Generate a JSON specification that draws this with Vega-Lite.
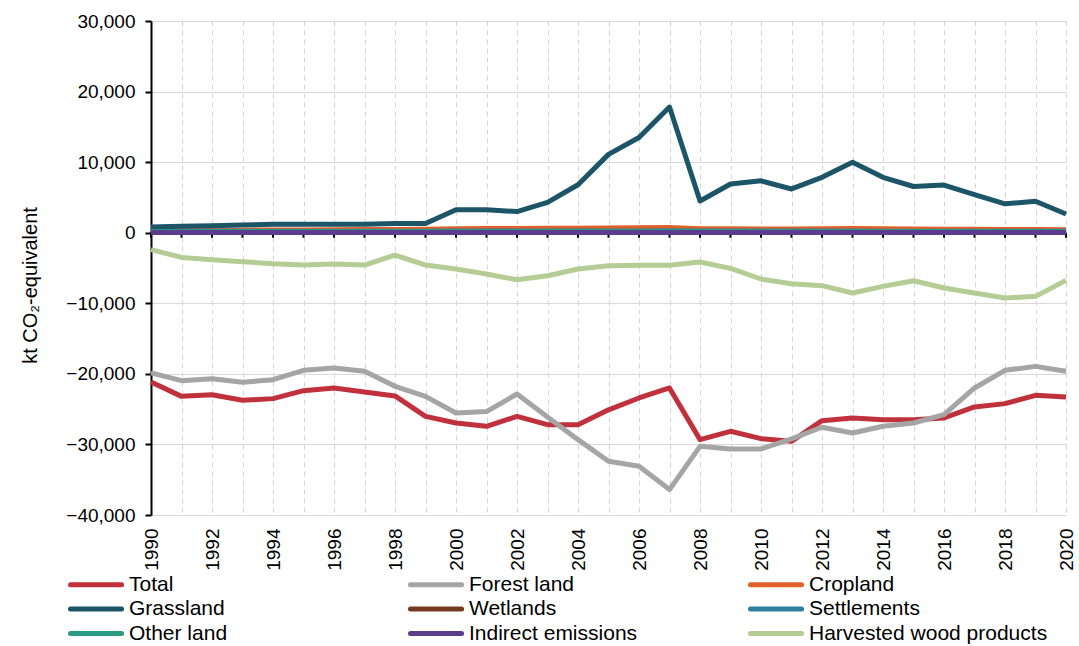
{
"$schema": "https://vega.github.io/schema/vega-lite/v6.json",
"width": 915, "height": 494,
"autosize": {"type": "none"},
"padding": {"left": 151, "top": 21, "right": 13, "bottom": 131},
"background": "white",
"config": {"view": {"stroke": null}, "font": "Liberation Sans"},
"data": {"values": [
{"year":1990,"series":"Total","value":-21150},{"year":1991,"series":"Total","value":-23190},{"year":1992,"series":"Total","value":-22950},{"year":1993,"series":"Total","value":-23750},{"year":1994,"series":"Total","value":-23510},{"year":1995,"series":"Total","value":-22380},{"year":1996,"series":"Total","value":-22000},{"year":1997,"series":"Total","value":-22570},{"year":1998,"series":"Total","value":-23130},{"year":1999,"series":"Total","value":-26020},{"year":2000,"series":"Total","value":-26960},{"year":2001,"series":"Total","value":-27430},{"year":2002,"series":"Total","value":-26020},{"year":2003,"series":"Total","value":-27200},{"year":2004,"series":"Total","value":-27200},{"year":2005,"series":"Total","value":-25100},{"year":2006,"series":"Total","value":-23420},{"year":2007,"series":"Total","value":-22000},{"year":2008,"series":"Total","value":-29320},{"year":2009,"series":"Total","value":-28140},{"year":2010,"series":"Total","value":-29180},{"year":2011,"series":"Total","value":-29560},{"year":2012,"series":"Total","value":-26630},{"year":2013,"series":"Total","value":-26250},{"year":2014,"series":"Total","value":-26490},{"year":2015,"series":"Total","value":-26490},{"year":2016,"series":"Total","value":-26250},{"year":2017,"series":"Total","value":-24690},{"year":2018,"series":"Total","value":-24220},{"year":2019,"series":"Total","value":-23040},{"year":2020,"series":"Total","value":-23270},
{"year":1990,"series":"Forest land","value":-19870},{"year":1991,"series":"Forest land","value":-20960},{"year":1992,"series":"Forest land","value":-20680},{"year":1993,"series":"Forest land","value":-21200},{"year":1994,"series":"Forest land","value":-20820},{"year":1995,"series":"Forest land","value":-19500},{"year":1996,"series":"Forest land","value":-19170},{"year":1997,"series":"Forest land","value":-19640},{"year":1998,"series":"Forest land","value":-21770},{"year":1999,"series":"Forest land","value":-23190},{"year":2000,"series":"Forest land","value":-25540},{"year":2001,"series":"Forest land","value":-25350},{"year":2002,"series":"Forest land","value":-22850},{"year":2003,"series":"Forest land","value":-26100},{"year":2004,"series":"Forest land","value":-29320},{"year":2005,"series":"Forest land","value":-32390},{"year":2006,"series":"Forest land","value":-33100},{"year":2007,"series":"Forest land","value":-36400},{"year":2008,"series":"Forest land","value":-30270},{"year":2009,"series":"Forest land","value":-30640},{"year":2010,"series":"Forest land","value":-30640},{"year":2011,"series":"Forest land","value":-29220},{"year":2012,"series":"Forest land","value":-27570},{"year":2013,"series":"Forest land","value":-28380},{"year":2014,"series":"Forest land","value":-27430},{"year":2015,"series":"Forest land","value":-26960},{"year":2016,"series":"Forest land","value":-25780},{"year":2017,"series":"Forest land","value":-22000},{"year":2018,"series":"Forest land","value":-19500},{"year":2019,"series":"Forest land","value":-18940},{"year":2020,"series":"Forest land","value":-19640},
{"year":1990,"series":"Cropland","value":300},{"year":1991,"series":"Cropland","value":320},{"year":1992,"series":"Cropland","value":340},{"year":1993,"series":"Cropland","value":360},{"year":1994,"series":"Cropland","value":380},{"year":1995,"series":"Cropland","value":400},{"year":1996,"series":"Cropland","value":420},{"year":1997,"series":"Cropland","value":440},{"year":1998,"series":"Cropland","value":460},{"year":1999,"series":"Cropland","value":480},{"year":2000,"series":"Cropland","value":550},{"year":2001,"series":"Cropland","value":580},{"year":2002,"series":"Cropland","value":600},{"year":2003,"series":"Cropland","value":620},{"year":2004,"series":"Cropland","value":650},{"year":2005,"series":"Cropland","value":680},{"year":2006,"series":"Cropland","value":720},{"year":2007,"series":"Cropland","value":750},{"year":2008,"series":"Cropland","value":550},{"year":2009,"series":"Cropland","value":550},{"year":2010,"series":"Cropland","value":540},{"year":2011,"series":"Cropland","value":540},{"year":2012,"series":"Cropland","value":560},{"year":2013,"series":"Cropland","value":600},{"year":2014,"series":"Cropland","value":560},{"year":2015,"series":"Cropland","value":520},{"year":2016,"series":"Cropland","value":500},{"year":2017,"series":"Cropland","value":480},{"year":2018,"series":"Cropland","value":450},{"year":2019,"series":"Cropland","value":440},{"year":2020,"series":"Cropland","value":430},
{"year":1990,"series":"Grassland","value":800},{"year":1991,"series":"Grassland","value":900},{"year":1992,"series":"Grassland","value":1000},{"year":1993,"series":"Grassland","value":1100},{"year":1994,"series":"Grassland","value":1200},{"year":1995,"series":"Grassland","value":1200},{"year":1996,"series":"Grassland","value":1200},{"year":1997,"series":"Grassland","value":1200},{"year":1998,"series":"Grassland","value":1300},{"year":1999,"series":"Grassland","value":1300},{"year":2000,"series":"Grassland","value":3250},{"year":2001,"series":"Grassland","value":3250},{"year":2002,"series":"Grassland","value":3000},{"year":2003,"series":"Grassland","value":4300},{"year":2004,"series":"Grassland","value":6800},{"year":2005,"series":"Grassland","value":11100},{"year":2006,"series":"Grassland","value":13500},{"year":2007,"series":"Grassland","value":17800},{"year":2008,"series":"Grassland","value":4500},{"year":2009,"series":"Grassland","value":6900},{"year":2010,"series":"Grassland","value":7350},{"year":2011,"series":"Grassland","value":6200},{"year":2012,"series":"Grassland","value":7850},{"year":2013,"series":"Grassland","value":10000},{"year":2014,"series":"Grassland","value":7850},{"year":2015,"series":"Grassland","value":6550},{"year":2016,"series":"Grassland","value":6750},{"year":2017,"series":"Grassland","value":5400},{"year":2018,"series":"Grassland","value":4100},{"year":2019,"series":"Grassland","value":4450},{"year":2020,"series":"Grassland","value":2650},
{"year":1990,"series":"Wetlands","value":80},{"year":1991,"series":"Wetlands","value":80},{"year":1992,"series":"Wetlands","value":85},{"year":1993,"series":"Wetlands","value":85},{"year":1994,"series":"Wetlands","value":90},{"year":1995,"series":"Wetlands","value":90},{"year":1996,"series":"Wetlands","value":90},{"year":1997,"series":"Wetlands","value":95},{"year":1998,"series":"Wetlands","value":95},{"year":1999,"series":"Wetlands","value":100},{"year":2000,"series":"Wetlands","value":100},{"year":2001,"series":"Wetlands","value":100},{"year":2002,"series":"Wetlands","value":105},{"year":2003,"series":"Wetlands","value":105},{"year":2004,"series":"Wetlands","value":110},{"year":2005,"series":"Wetlands","value":110},{"year":2006,"series":"Wetlands","value":110},{"year":2007,"series":"Wetlands","value":115},{"year":2008,"series":"Wetlands","value":110},{"year":2009,"series":"Wetlands","value":110},{"year":2010,"series":"Wetlands","value":105},{"year":2011,"series":"Wetlands","value":105},{"year":2012,"series":"Wetlands","value":100},{"year":2013,"series":"Wetlands","value":100},{"year":2014,"series":"Wetlands","value":100},{"year":2015,"series":"Wetlands","value":95},{"year":2016,"series":"Wetlands","value":95},{"year":2017,"series":"Wetlands","value":90},{"year":2018,"series":"Wetlands","value":90},{"year":2019,"series":"Wetlands","value":90},{"year":2020,"series":"Wetlands","value":85},
{"year":1990,"series":"Settlements","value":180},{"year":1991,"series":"Settlements","value":185},{"year":1992,"series":"Settlements","value":190},{"year":1993,"series":"Settlements","value":195},{"year":1994,"series":"Settlements","value":200},{"year":1995,"series":"Settlements","value":205},{"year":1996,"series":"Settlements","value":210},{"year":1997,"series":"Settlements","value":215},{"year":1998,"series":"Settlements","value":220},{"year":1999,"series":"Settlements","value":225},{"year":2000,"series":"Settlements","value":230},{"year":2001,"series":"Settlements","value":235},{"year":2002,"series":"Settlements","value":240},{"year":2003,"series":"Settlements","value":245},{"year":2004,"series":"Settlements","value":250},{"year":2005,"series":"Settlements","value":255},{"year":2006,"series":"Settlements","value":260},{"year":2007,"series":"Settlements","value":265},{"year":2008,"series":"Settlements","value":250},{"year":2009,"series":"Settlements","value":245},{"year":2010,"series":"Settlements","value":240},{"year":2011,"series":"Settlements","value":235},{"year":2012,"series":"Settlements","value":230},{"year":2013,"series":"Settlements","value":230},{"year":2014,"series":"Settlements","value":225},{"year":2015,"series":"Settlements","value":220},{"year":2016,"series":"Settlements","value":215},{"year":2017,"series":"Settlements","value":210},{"year":2018,"series":"Settlements","value":205},{"year":2019,"series":"Settlements","value":200},{"year":2020,"series":"Settlements","value":200},
{"year":1990,"series":"Other land","value":150},{"year":1991,"series":"Other land","value":150},{"year":1992,"series":"Other land","value":150},{"year":1993,"series":"Other land","value":155},{"year":1994,"series":"Other land","value":155},{"year":1995,"series":"Other land","value":155},{"year":1996,"series":"Other land","value":160},{"year":1997,"series":"Other land","value":160},{"year":1998,"series":"Other land","value":160},{"year":1999,"series":"Other land","value":165},{"year":2000,"series":"Other land","value":165},{"year":2001,"series":"Other land","value":165},{"year":2002,"series":"Other land","value":170},{"year":2003,"series":"Other land","value":170},{"year":2004,"series":"Other land","value":170},{"year":2005,"series":"Other land","value":175},{"year":2006,"series":"Other land","value":175},{"year":2007,"series":"Other land","value":175},{"year":2008,"series":"Other land","value":170},{"year":2009,"series":"Other land","value":170},{"year":2010,"series":"Other land","value":165},{"year":2011,"series":"Other land","value":165},{"year":2012,"series":"Other land","value":160},{"year":2013,"series":"Other land","value":160},{"year":2014,"series":"Other land","value":160},{"year":2015,"series":"Other land","value":155},{"year":2016,"series":"Other land","value":155},{"year":2017,"series":"Other land","value":150},{"year":2018,"series":"Other land","value":150},{"year":2019,"series":"Other land","value":150},{"year":2020,"series":"Other land","value":150},
{"year":1990,"series":"Indirect emissions","value":30},{"year":1991,"series":"Indirect emissions","value":30},{"year":1992,"series":"Indirect emissions","value":30},{"year":1993,"series":"Indirect emissions","value":30},{"year":1994,"series":"Indirect emissions","value":30},{"year":1995,"series":"Indirect emissions","value":30},{"year":1996,"series":"Indirect emissions","value":30},{"year":1997,"series":"Indirect emissions","value":30},{"year":1998,"series":"Indirect emissions","value":30},{"year":1999,"series":"Indirect emissions","value":30},{"year":2000,"series":"Indirect emissions","value":30},{"year":2001,"series":"Indirect emissions","value":30},{"year":2002,"series":"Indirect emissions","value":30},{"year":2003,"series":"Indirect emissions","value":30},{"year":2004,"series":"Indirect emissions","value":30},{"year":2005,"series":"Indirect emissions","value":30},{"year":2006,"series":"Indirect emissions","value":30},{"year":2007,"series":"Indirect emissions","value":30},{"year":2008,"series":"Indirect emissions","value":30},{"year":2009,"series":"Indirect emissions","value":30},{"year":2010,"series":"Indirect emissions","value":30},{"year":2011,"series":"Indirect emissions","value":30},{"year":2012,"series":"Indirect emissions","value":30},{"year":2013,"series":"Indirect emissions","value":30},{"year":2014,"series":"Indirect emissions","value":30},{"year":2015,"series":"Indirect emissions","value":30},{"year":2016,"series":"Indirect emissions","value":30},{"year":2017,"series":"Indirect emissions","value":30},{"year":2018,"series":"Indirect emissions","value":30},{"year":2019,"series":"Indirect emissions","value":30},{"year":2020,"series":"Indirect emissions","value":30},
{"year":1990,"series":"Harvested wood products","value":-2400},{"year":1991,"series":"Harvested wood products","value":-3500},{"year":1992,"series":"Harvested wood products","value":-3820},{"year":1993,"series":"Harvested wood products","value":-4100},{"year":1994,"series":"Harvested wood products","value":-4400},{"year":1995,"series":"Harvested wood products","value":-4580},{"year":1996,"series":"Harvested wood products","value":-4440},{"year":1997,"series":"Harvested wood products","value":-4580},{"year":1998,"series":"Harvested wood products","value":-3160},{"year":1999,"series":"Harvested wood products","value":-4580},{"year":2000,"series":"Harvested wood products","value":-5150},{"year":2001,"series":"Harvested wood products","value":-5860},{"year":2002,"series":"Harvested wood products","value":-6660},{"year":2003,"series":"Harvested wood products","value":-6090},{"year":2004,"series":"Harvested wood products","value":-5150},{"year":2005,"series":"Harvested wood products","value":-4670},{"year":2006,"series":"Harvested wood products","value":-4620},{"year":2007,"series":"Harvested wood products","value":-4620},{"year":2008,"series":"Harvested wood products","value":-4160},{"year":2009,"series":"Harvested wood products","value":-5050},{"year":2010,"series":"Harvested wood products","value":-6560},{"year":2011,"series":"Harvested wood products","value":-7220},{"year":2012,"series":"Harvested wood products","value":-7500},{"year":2013,"series":"Harvested wood products","value":-8550},{"year":2014,"series":"Harvested wood products","value":-7600},{"year":2015,"series":"Harvested wood products","value":-6800},{"year":2016,"series":"Harvested wood products","value":-7840},{"year":2017,"series":"Harvested wood products","value":-8550},{"year":2018,"series":"Harvested wood products","value":-9250},{"year":2019,"series":"Harvested wood products","value":-9020},{"year":2020,"series":"Harvested wood products","value":-6750}
]},
"layer": [
{
"transform": [{"filter": "datum.series === 'Total'"}],
"mark": {"type": "rule", "color": "black", "strokeWidth": 2, "y2Offset": 5},
"encoding": {
"x": {"field": "year", "type": "quantitative",
"scale": {"domain": [1990, 2020], "nice": false, "zero": false},
"axis": {"title": null, "values": [1990,1991,1992,1993,1994,1995,1996,1997,1998,1999,2000,2001,2002,2003,2004,2005,2006,2007,2008,2009,2010,2011,2012,2013,2014,2015,2016,2017,2018,2019,2020],
"format": "d", "labelExpr": "datum.value % 2 === 0 ? datum.label : ''",
"grid": true, "gridDash": [5, 4], "gridColor": "#d4d4d4", "gridWidth": 1,
"ticks": false, "domain": false, "labelAngle": -90, "labelFontSize": 19, "labelColor": "#000", "labelPadding": 13, "labelFont": "Liberation Sans"}},
"y": {"datum": 0, "type": "quantitative",
"scale": {"domain": [-40000, 30000], "nice": false},
"axis": {"title": "kt CO₂-equivalent", "values": [-40000,-30000,-20000,-10000,0,10000,20000,30000], "format": ",.0f",
"grid": true, "gridColor": "#d9d9d9", "gridWidth": 1,
"domainColor": "#000", "domainWidth": 2, "tickColor": "#000", "tickWidth": 2, "tickSize": 6,
"labelFontSize": 19, "labelColor": "#000", "labelPadding": 10, "labelFont": "Liberation Sans",
"titleFontSize": 20, "titleFontWeight": "normal", "titleColor": "#000", "titleFont": "Liberation Sans",
"titleX": -121, "titleY": 264, "titleAngle": -90, "titleAlign": "center", "titleBaseline": "middle"}},
"y2": {"datum": 0}
}
},
{
"mark": {"type": "line", "strokeWidth": 5, "strokeJoin": "round"},
"encoding": {
"x": {"field": "year", "type": "quantitative",
"scale": {"domain": [1990, 2020], "nice": false, "zero": false},
"axis": {"title": null, "values": [1990,1991,1992,1993,1994,1995,1996,1997,1998,1999,2000,2001,2002,2003,2004,2005,2006,2007,2008,2009,2010,2011,2012,2013,2014,2015,2016,2017,2018,2019,2020],
"format": "d", "labelExpr": "datum.value % 2 === 0 ? datum.label : ''",
"grid": true, "gridDash": [5, 4], "gridColor": "#d4d4d4", "gridWidth": 1,
"ticks": false, "domain": false, "labelAngle": -90, "labelFontSize": 19, "labelColor": "#000", "labelPadding": 13, "labelFont": "Liberation Sans"}},
"y": {"field": "value", "type": "quantitative",
"scale": {"domain": [-40000, 30000], "nice": false},
"axis": {"title": "kt CO₂-equivalent", "values": [-40000,-30000,-20000,-10000,0,10000,20000,30000], "format": ",.0f",
"grid": true, "gridColor": "#d9d9d9", "gridWidth": 1,
"domainColor": "#000", "domainWidth": 2, "tickColor": "#000", "tickWidth": 2, "tickSize": 6,
"labelFontSize": 19, "labelColor": "#000", "labelPadding": 10, "labelFont": "Liberation Sans",
"titleFontSize": 20, "titleFontWeight": "normal", "titleColor": "#000", "titleFont": "Liberation Sans",
"titleX": -121, "titleY": 264, "titleAngle": -90, "titleAlign": "center", "titleBaseline": "middle"}},
"color": {"field": "series", "type": "nominal",
"scale": {"domain": ["Total","Forest land","Cropland","Grassland","Wetlands","Settlements","Other land","Indirect emissions","Harvested wood products"],
"range": ["#c1313c","#a5a5a5","#e0602a","#1c5468","#763a22","#2f7f9f","#2a9a83","#5c3c8c","#b5cd94"]},
"legend": {"title": null, "orient": "none", "legendX": -91, "legendY": 553, "columns": 3, "direction": "horizontal",
"symbolType": "M0,0H8", "symbolSize": 163, "symbolStrokeWidth": 5,
"labelFontSize": 21, "labelFont": "Liberation Sans", "labelColor": "#000", "labelOffset": 48, "labelLimit": 400,
"gridAlign": "all", "columnPadding": 32, "rowPadding": 2.5,
"encode": {"symbols": {"update": {"strokeCap": {"value": "round"}}}}}}
}
}
]
}
